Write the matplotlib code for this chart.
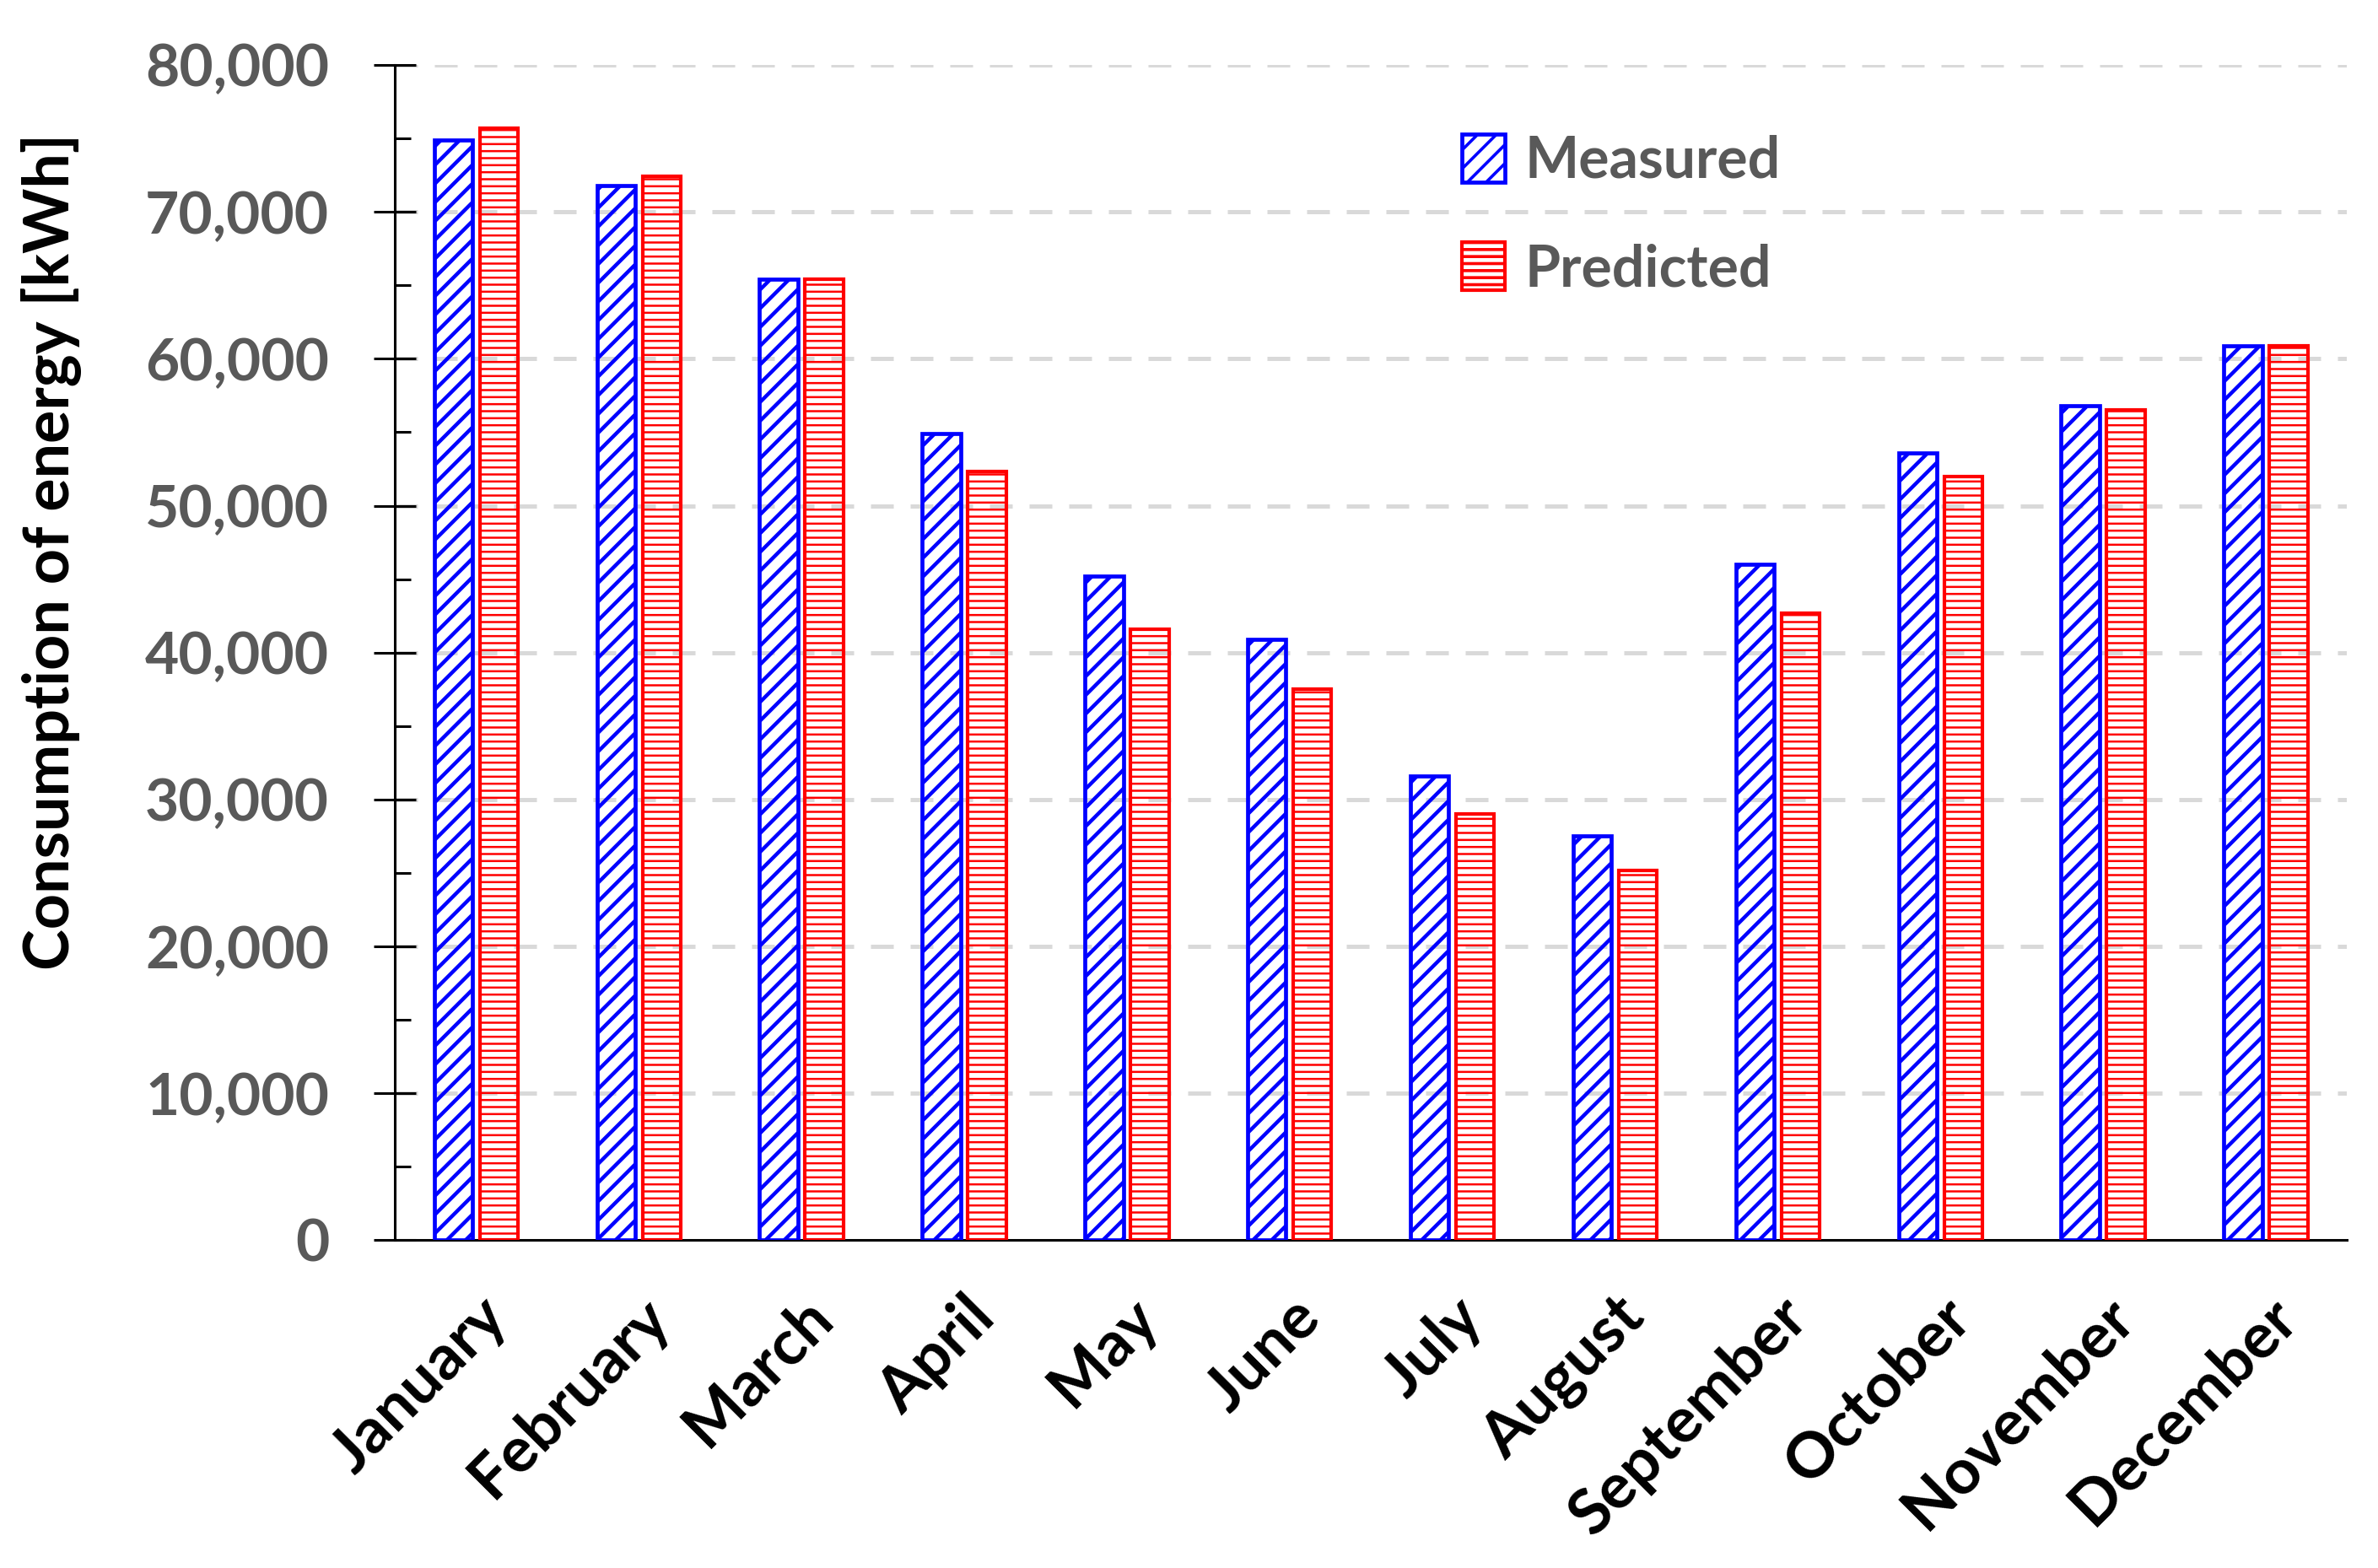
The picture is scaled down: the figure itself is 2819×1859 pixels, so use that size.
import numpy as np
import matplotlib.pyplot as plt
from matplotlib.ticker import MultipleLocator, FuncFormatter

# monthly energy consumption (kWh)
months = ["January", "February", "March", "April", "May", "June",
          "July", "August", "September", "October", "November", "December"]
measured = [74900, 71800, 65400, 54900, 45200, 40900,
            31600, 27500, 46000, 53600, 56800, 60900]
predicted = [75700, 72400, 65400, 52300, 41600, 37500,
             29000, 25200, 42700, 52000, 56500, 60900]

plt.rcParams["font.family"] = ["Lato", "DejaVu Sans"]
plt.rcParams["font.weight"] = "bold"
plt.rcParams["hatch.linewidth"] = 1.3

fig = plt.figure(figsize=(2819 / 200, 1859 / 200), dpi=200)
ax = fig.add_axes([0.166, 0.209, 0.821, 0.7496])

x = np.arange(len(months))
w = 0.235
off = 0.14

b1 = ax.bar(x - off, measured, w, facecolor="none", edgecolor="#0000FF",
            hatch="///", linewidth=1.7, label="Measured", zorder=3)
b2 = ax.bar(x + off, predicted, w, facecolor="none", edgecolor="#FF0000",
            hatch="----", linewidth=1.5, label="Predicted", zorder=3)
for p in b1:
    if hasattr(p, "set_hatch_linewidth"):
        p.set_hatch_linewidth(1.6)
for p in b2:
    if hasattr(p, "set_hatch_linewidth"):
        p.set_hatch_linewidth(0.9)

ax.set_xlim(-0.5, 11.5)
ax.set_ylim(0, 80000)

ax.spines["top"].set_visible(False)
ax.spines["right"].set_visible(False)
ax.spines["left"].set_linewidth(1.1)
ax.spines["bottom"].set_linewidth(1.1)

ax.yaxis.set_major_locator(MultipleLocator(10000))
ax.yaxis.set_minor_locator(MultipleLocator(5000))
ax.yaxis.set_major_formatter(FuncFormatter(lambda v, _: f"{int(v):,}"))
ax.tick_params(axis="y", which="major", direction="inout", length=18, width=1.1,
               pad=19, labelsize=25, labelcolor="#595959")
ax.tick_params(axis="y", which="minor", direction="in", length=7, width=1.1)

ax.set_xticks(x)
ax.set_xticklabels(months, rotation=45, ha="right", rotation_mode="anchor")
ax.tick_params(axis="x", length=0, pad=20, labelsize=27, labelcolor="black")

# dashed gray gridlines (skip the baseline)
for v in range(10000, 80001, 10000):
    ax.axhline(v, color="#D9D9D9", linewidth=1.8, dashes=(5.4, 4), zorder=1)

fig.text(0.0216, 0.648, "Consumption of energy [kWh]", rotation=90,
         ha="center", va="center", fontsize=26.5, fontweight="bold", color="black")

leg = ax.legend(loc="upper left", bbox_to_anchor=(0.52, 0.985), frameon=False,
                fontsize=24.5, handlelength=0.75, handleheight=0.9,
                labelspacing=0.95, handletextpad=0.35)
for t in leg.get_texts():
    t.set_color("#595959")

fig.savefig("out.png", dpi=200)
